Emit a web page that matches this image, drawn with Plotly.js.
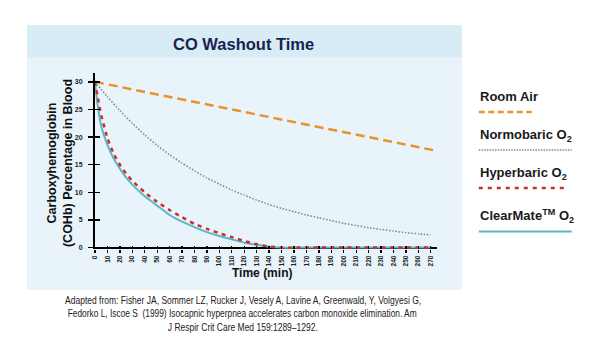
<!DOCTYPE html>
<html>
<head>
<meta charset="utf-8">
<script src="https://cdn.plot.ly/plotly-3.0.1.min.js"></script>
<style>html,body{margin:0;padding:0;background:#fff}#chart{width:600px;height:355px}</style>
</head>
<body>
<div id="chart"></div>
<script>
// ---- data ----
const roomAirTime = [0, 90, 180, 275];
const roomAirValue = [30, 25.9, 21.8, 17.5];

const normoTime = [0,10,20,30,40,50,60,70,80,90,100,110,120,130,140,150,160,170,180,190,200,210,220,230,240,250,260,270];
const normoValue = [30,27.3,24.8,22.5,20.4,18.5,16.8,15.3,13.9,12.6,11.5,10.4,9.5,8.6,7.8,7.1,6.5,5.9,5.4,4.9,4.4,4.0,3.6,3.3,3.0,2.7,2.5,2.3];

const fastTime = [0,2,5,10,15,20,25,30,40,50,60,70,80,90,100,110,120,130,140,150,160,170,180,190,200,210,220,230,240,250,260,270];
const hyperValue = [30,27.5,24.0,19.8,17.0,15.0,13.4,12.1,10.0,8.3,6.8,5.5,4.3,3.4,2.6,1.9,1.2,0.6,0.2,0,0,0,0,0,0,0,0,0,0,0,0,0];
const clearMateValue = [30,26.0,22.0,18.6,16.1,14.3,12.7,11.4,9.3,7.6,5.9,4.7,3.7,2.8,2.1,1.5,0.9,0.5,0.15,0,0,0,0,0,0,0,0,0,0,0,0,0];

const seriesNames = ['Room Air', 'Normobaric O<sub>2</sub>', 'Hyperbaric O<sub>2</sub>', 'ClearMate<sup>TM</sup> O<sub>2</sub>'];
const xTickVals = [0,10,20,30,40,50,60,70,80,90,100,110,120,130,140,150,160,170,180,190,200,210,220,230,240,250,260,270];
const yTickVals = [0,5,10,15,20,25,30];

const chartTitle = 'CO Washout Time';
const xTitle = 'Time (min)';
const yTitle = 'Carboxyhemoglobin<br>(COHb) Percentage in Blood';
const captionLines = [
  'Adapted from: Fisher JA, Sommer LZ, Rucker J, Vesely A, Lavine A, Greenwald, Y, Volgyesi G,',
  'Fedorko L, Iscoe S  (1999) Isocapnic hyperpnea accelerates carbon monoxide elimination. Am',
  'J Respir Crit Care Med 159:1289–1292.'
];

// ---- styles ----
const C_ORANGE = '#e8922f', C_GRAY = '#858585', C_RED = '#c9302c', C_TEAL = '#5db5c9';
const FONT = 'Liberation Sans, Arial, sans-serif';

// geometry helpers (pixel -> paper)
const L = 95, W = 342.2, B = 249.1, H = 176.25;
const fx = p => (p - L) / W;
const fy = p => (B - p) / H;

const traces = [
  {x: roomAirTime, y: roomAirValue, mode: 'lines', name: seriesNames[0],
   line: {color: C_ORANGE, width: 2.5, dash: '9px,5px'}},
  {x: normoTime, y: normoValue, mode: 'lines', name: seriesNames[1],
   line: {color: C_GRAY, width: 1.5, dash: '1.5px,1.7px', shape: 'spline', smoothing: 0.6}},
  {x: fastTime, y: clearMateValue, mode: 'lines', name: seriesNames[3],
   line: {color: C_TEAL, width: 2, shape: 'spline', smoothing: 0.5}},
  {x: fastTime, y: hyperValue, mode: 'lines', name: seriesNames[2],
   line: {color: C_RED, width: 2.5, dash: '4px,4.5px', shape: 'spline', smoothing: 0.5}},
  {x: [], y: [], xaxis: 'x2', yaxis: 'y2', showlegend: false, hoverinfo: 'skip'}
];

const legendY = [96.7, 135.7, 173, 215.7];
const legendLineY = [112, 150, 188, 231.7];
const legendLineX2 = [532, 572, 567, 572];
const legendStyles = [
  {color: C_ORANGE, width: 2.5, dash: '6px,3.5px'},
  {color: C_GRAY, width: 1.5, dash: '1.5px,1.2px'},
  {color: C_RED, width: 2.5, dash: '4px,5px'},
  {color: C_TEAL, width: 2, dash: 'solid'}
];

const shapes = [
  {type: 'rect', xref: 'paper', yref: 'paper', x0: fx(27), x1: fx(462), y0: fy(290), y1: fy(25),
   fillcolor: '#e8f4f9', line: {width: 0}, layer: 'below'},
  {type: 'rect', xref: 'paper', yref: 'paper', x0: fx(27), x1: fx(462), y0: fy(57), y1: fy(25),
   fillcolor: '#d7ecf4', line: {width: 0}, layer: 'below'}
];
legendLineY.forEach((py, i) => {
  shapes.push({type: 'line', xref: 'paper', yref: 'paper', x0: fx(479), x1: fx(legendLineX2[i]),
    y0: fy(py), y1: fy(py), line: legendStyles[i]});
});

const annotations = [
  {text: '<b>' + chartTitle + '</b>', xref: 'paper', yref: 'paper', x: fx(244), y: fy(44),
   showarrow: false, font: {family: FONT, size: 16.5, color: '#1b2150'}, xanchor: 'center', yanchor: 'middle'},
  {text: '<b>' + yTitle + '</b>', xref: 'paper', yref: 'paper', x: fx(60), y: fy(163), textangle: -90,
   showarrow: false, font: {family: FONT, size: 12.5, color: '#111'}, xanchor: 'center', yanchor: 'middle'},
  {text: '<b>' + xTitle + '</b>', xref: 'paper', yref: 'paper', x: fx(262), y: fy(273),
   showarrow: false, font: {family: FONT, size: 12, color: '#111'}, xanchor: 'center', yanchor: 'middle'}
];
const captionY = [300, 313.5, 327];
const captionWidth = [356, 349, 150];
const captionStart = annotations.length;
captionLines.forEach((t, i) => {
  annotations.push({text: t, xref: 'paper', yref: 'paper', x: fx(243), y: fy(captionY[i]),
    showarrow: false, font: {family: FONT, size: 10.5, color: '#1a1a1a'}, xanchor: 'center', yanchor: 'middle'});
});
seriesNames.forEach((n, i) => {
  annotations.push({text: '<b>' + n + '</b>', xref: 'paper', yref: 'paper', x: fx(478), y: fy(legendY[i]),
    showarrow: false, xanchor: 'left', yanchor: 'middle', font: {family: FONT, size: 13, color: '#1a1a1a'}});
});

const tickFont = {family: FONT, size: 6.5, color: '#222', weight: 'bold'};
const layout = {
  width: 600, height: 355,
  margin: {l: L, r: 600 - L - W, t: B - H, b: 355 - B, pad: 0},
  paper_bgcolor: '#ffffff', plot_bgcolor: 'rgba(0,0,0,0)',
  showlegend: false,
  font: {family: FONT},
  xaxis: {range: [0, 275], tickvals: xTickVals, ticktext: xTickVals.map(String), tickangle: -90,
    ticks: 'outside', ticklen: 3, tickwidth: 1.3, tickcolor: '#000', showline: false, showgrid: false,
    zeroline: false, tickfont: tickFont, layer: 'below traces', fixedrange: true},
  yaxis: {range: [-0.25, 31.6], tickvals: yTickVals, ticks: 'outside', ticklen: 5, tickwidth: 1.5, tickcolor: '#000',
    showline: true, linecolor: '#000', linewidth: 2, showgrid: false, ticklabelstandoff: 4,
    zeroline: true, zerolinecolor: '#000', zerolinewidth: 2,
    tickfont: {family: FONT, size: 7, color: '#222', weight: 'bold'}, layer: 'below traces', fixedrange: true},
  xaxis2: {overlaying: 'x', anchor: 'y2', range: [0, 275], tickvals: xTickVals, ticks: 'inside', ticklen: 3,
    tickwidth: 1.3, tickcolor: '#000', showticklabels: false, showline: false, showgrid: false, zeroline: false},
  yaxis2: {overlaying: 'y', anchor: 'x2', side: 'left', range: [-0.25, 31.6], tickvals: yTickVals, ticks: 'inside',
    ticklen: 5, tickwidth: 1.5, tickcolor: '#000', showticklabels: false, showline: false, showgrid: false, zeroline: false},
  shapes: shapes,
  annotations: annotations
};

Plotly.newPlot('chart', traces, layout, {staticPlot: true, displayModeBar: false}).then(gd => {
  // condense caption lines to the narrow width used in the reference
  captionWidth.forEach((w, i) => {
    const g = gd.querySelector('.annotation[data-index="' + (captionStart + i) + '"] text.annotation-text');
    if (g) {
      g.setAttribute('textLength', w);
      g.setAttribute('lengthAdjust', 'spacingAndGlyphs');
    }
  });
});
</script>
</body>
</html>
